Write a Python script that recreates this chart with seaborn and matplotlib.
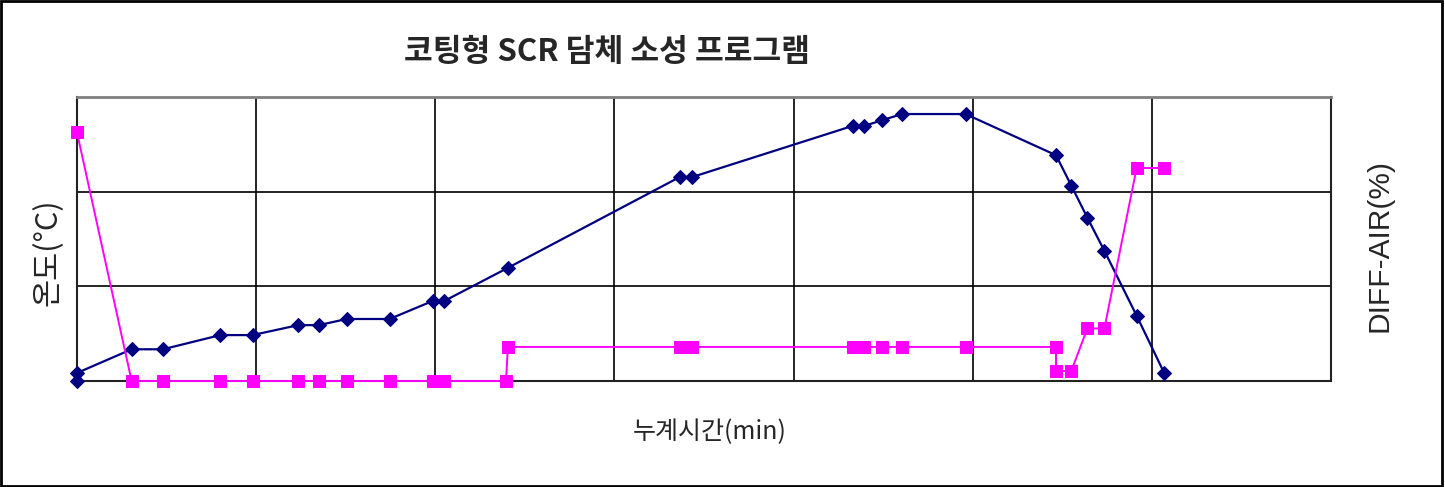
import matplotlib
matplotlib.use("Agg")
import matplotlib.pyplot as plt
import seaborn as sns
import pandas as pd
from matplotlib.patches import Rectangle

# ---- data ----
temp_time = [0, 0, 61, 96, 160, 196, 247, 270, 301, 349, 397, 410, 481,
             673, 687, 866, 879, 899, 921, 992, 1093, 1110, 1128, 1147, 1183, 1214]
temp_val = [0, 17, 67, 67, 97, 97, 118, 118, 131, 131, 169, 169, 239,
            431, 431, 539, 539, 551, 564, 564, 477, 413, 345, 275, 138, 16]

air_time = [0, 61, 96, 160, 196, 247, 270, 301, 349, 397, 410, 479, 481,
            673, 687, 866, 879, 899, 921, 992, 1093, 1093, 1110, 1128, 1147, 1183, 1214]
air_val = [35, 0, 0, 0, 0, 0, 0, 0, 0, 0, 0, 0, 4.8,
           4.8, 4.8, 4.8, 4.8, 4.8, 4.8, 4.8, 4.8, 1.4, 1.4, 7.4, 7.4, 30, 30]

x_ticks = [0, 200, 400, 600, 800, 1000, 1200, 1400]
y_ticks = [0, 200, 400, 600]

title = "코팅형 SCR 담체 소성 프로그램"
xlabel = "누계시간(min)"
ylabel = "온도(°C)"
y2label = "DIFF-AIR(%)"

sns.set_theme(style="white")
plt.rcParams['font.family'] = ['Noto Sans CJK KR', 'DejaVu Sans']

fig = plt.figure(figsize=(14.45, 4.87), dpi=100)
ax = fig.add_axes([77/1445, 1-381/487, (1331-77)/1445, (381-97)/487])

df_t = pd.DataFrame({"t": temp_time, "v": temp_val})
df_a = pd.DataFrame({"t": air_time, "v": air_val})

sns.lineplot(data=df_t, x="t", y="v", ax=ax, sort=False, estimator=None,
             color="#000080", marker="D", markersize=7, markeredgecolor="#000080",
             linewidth=1.6, clip_on=False, zorder=3)

ax.set_xlim(0, 1400)
ax.set_ylim(0, 600)
ax.set_xticks(x_ticks)
ax.set_yticks(y_ticks)
ax.set_xticklabels([])
ax.set_yticklabels([])
ax.tick_params(length=0)
ax.grid(True, color="black", linewidth=1.2)
ax.set_axisbelow(True)
ax.set_xlabel("")
ax.set_ylabel("")
for s in ["left", "bottom", "right"]:
    ax.spines[s].set_color("#222222")
    ax.spines[s].set_linewidth(1.5)
ax.spines["top"].set_color("#808080")
ax.spines["top"].set_linewidth(2)

ax2 = ax.twinx()
sns.lineplot(data=df_a, x="t", y="v", ax=ax2, sort=False, estimator=None,
             color="#FF00FF", marker="s", markersize=8, markeredgecolor="#FF00FF",
             linewidth=1.4, clip_on=False, zorder=3)
ax2.set_ylim(0, 40)
ax2.set_yticks([])
ax2.set_ylabel("")
ax2.set_xlabel("")
ax2.tick_params(length=0)
for s in ax2.spines.values():
    s.set_visible(False)

fig.text(607/1445, 1-52/487, title, ha="center", va="center",
         fontsize=22.5, fontweight="bold")
fig.text(710/1445, 1-432/487, xlabel, ha="center", va="center", fontsize=18)
fig.text(48/1445, 1-252/487, ylabel, ha="center", va="center",
         fontsize=22, rotation=90)
fig.text(1380/1445, 1-245/487, y2label, ha="center", va="center",
         fontsize=21.5, rotation=90, family=['Liberation Sans', 'DejaVu Sans'])

fig.patches.append(Rectangle((0.001, 0.003), 0.997, 0.994, transform=fig.transFigure,
                             fill=False, edgecolor="black", linewidth=2))

fig.savefig("out.png", dpi=100)
